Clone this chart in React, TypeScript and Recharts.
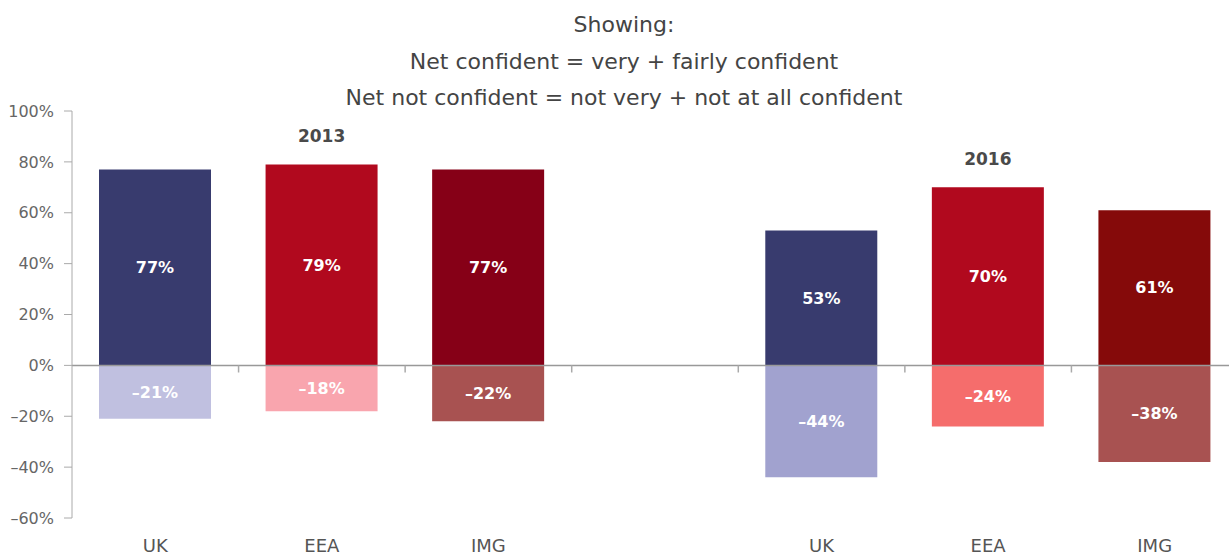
import React from 'react';
import {
  BarChart,
  Bar,
  Cell,
  XAxis,
  YAxis,
  ReferenceLine,
  LabelList,
} from 'recharts';

const categories = ['UK 2013', 'EEA 2013', 'IMG 2013', 'gap', 'UK 2016', 'EEA 2016', 'IMG 2016'];
const confident = [77, 79, 77, null, 53, 70, 61];
const notConfident = [-21, -18, -22, null, -44, -24, -38];
const yearLabels = ['', '2013', '', '', '', '2016', ''];

const confidentColors = ['#383b6e', '#b1091e', '#860017', '#fff', '#383b6e', '#b1091e', '#850a0a'];
const notConfidentColors = ['#c0c0e0', '#f9a5ae', '#a85251', '#fff', '#a1a2cf', '#f56d6c', '#a85251'];

const yTicks = [-60, -40, -20, 0, 20, 40, 60, 80, 100];
const titleLines = [
  'Showing:',
  'Net confident = very + fairly confident',
  'Net not confident = not very + not at all confident',
];

const FONT = '"DejaVu Sans", Verdana, sans-serif';

const data = categories.map((name, i) => ({
  name,
  slot: i + 0.5,
  confident: confident[i],
  notConfident: notConfident[i],
  year: yearLabels[i],
}));

const pct = (v: number) => (v < 0 ? `–${Math.abs(v)}%` : `${v}%`);
// category boundaries on the zero line
const boundaries = [1, 2, 3, 4, 5, 6];

export default function App() {
  return (
    <div
      style={{
        position: 'fixed',
        top: 0,
        left: 0,
        width: 1229,
        height: 556,
        overflow: 'hidden',
        background: '#fff',
        fontFamily: FONT,
      }}
    >
      <div
        style={{
          position: 'absolute',
          top: 7,
          left: 10,
          width: 1228,
          textAlign: 'center',
          color: '#444',
          fontSize: 22,
          lineHeight: '36.5px',
        }}
      >
        {titleLines.map((t) => (
          <div key={t}>{t}</div>
        ))}
      </div>
      <div style={{ position: 'absolute', top: 0, left: 0 }}>
        <BarChart
          width={1260}
          height={556}
          data={data}
          margin={{ top: 111, right: 22, left: 0, bottom: 0 }}
          stackOffset="sign"
        >
          <XAxis
            dataKey="name"
            height={38}
            axisLine={false}
            tickLine={false}
            tickMargin={15}
            interval={0}
            tickFormatter={(v: string) => (v === 'gap' ? '' : v.split(' ')[0])}
            tick={{ fill: '#555', fontSize: 18, fontFamily: FONT }}
          />
          <XAxis
            xAxisId="b"
            dataKey="slot"
            type="number"
            domain={[0, 7]}
            allowDataOverflow
            hide
          />
          <YAxis
            width={72}
            domain={[-60, 100]}
            ticks={yTicks}
            interval={0}
            tickFormatter={pct}
            tickSize={8}
            tickMargin={10}
            axisLine={{ stroke: '#aaa' }}
            tickLine={{ stroke: '#aaa' }}
            tick={{ fill: '#666', fontSize: 16, fontFamily: FONT }}
          />
          <Bar dataKey="confident" stackId="s" barSize={112} isAnimationActive={false}>
            {data.map((d, i) => (
              <Cell key={d.name} fill={confidentColors[i]} />
            ))}
            <LabelList
              dataKey="confident"
              position="center"
              formatter={(v: any) => (v == null ? '' : pct(v))}
              style={{ fill: '#fff', fontSize: 16, fontWeight: 'bold', fontFamily: FONT }}
            />
            <LabelList
              dataKey="year"
              position="top"
              offset={22}
              style={{ fill: '#4a4a4a', fontSize: 17, fontWeight: 'bold', fontFamily: FONT }}
            />
          </Bar>
          <Bar dataKey="notConfident" stackId="s" barSize={112} isAnimationActive={false}>
            {data.map((d, i) => (
              <Cell key={d.name} fill={notConfidentColors[i]} />
            ))}
            <LabelList
              dataKey="notConfident"
              position="center"
              formatter={(v: any) => (v == null ? '' : pct(v))}
              style={{ fill: '#fff', fontSize: 16, fontWeight: 'bold', fontFamily: FONT }}
            />
          </Bar>
          <ReferenceLine y={0} stroke="#999" strokeWidth={1.5} />
          {boundaries.map((b) => (
            <ReferenceLine
              key={b}
              xAxisId="b"
              segment={[
                { x: b, y: 0 },
                { x: b, y: -2.8 },
              ]}
              stroke="#aaa"
              strokeWidth={1.5}
            />
          ))}
        </BarChart>
      </div>
    </div>
  );
}
